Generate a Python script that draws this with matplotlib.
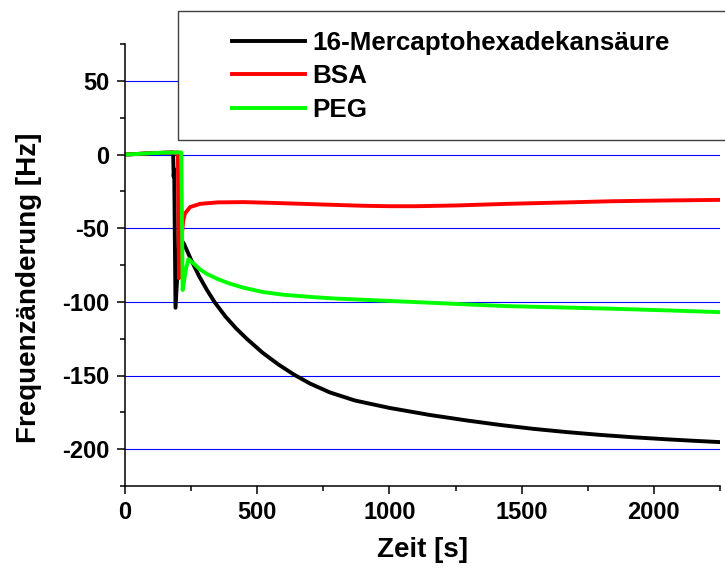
import matplotlib
matplotlib.use("Agg")
from matplotlib import pyplot as plt
from matplotlib.ticker import MultipleLocator
from matplotlib.patches import Rectangle

plt.rcParams['font.family'] = ['Liberation Sans', 'DejaVu Sans']
plt.rcParams['font.weight'] = 'bold'
plt.rcParams['axes.unicode_minus'] = False

# 16-Mercaptohexadekansaeure
t_mhda = [0, 50, 100, 150, 182, 184, 186, 191, 206, 223, 250, 280, 310, 340, 380, 420,
          460, 520, 580, 640, 700, 775, 870, 1000, 1153, 1292, 1420, 1544, 1670, 1796,
          1920, 2048, 2150, 2250]
f_mhda = [0, 0.4, 0.9, 1.2, 1.4, -15, -10, -104, -56, -60.6, -71.5, -82.5, -92, -100.5,
          -110, -118, -125, -134.5, -142.5, -149.5, -155.5, -161.5, -167, -172, -176.8,
          -180.5, -183.6, -186.2, -188.4, -190.3, -191.9, -193.3, -194.3, -195.2]

# BSA
t_bsa = [0, 50, 100, 150, 200, 204, 212, 220, 227, 246, 284, 350, 450, 586, 775, 900,
         1000, 1100, 1250, 1443, 1650, 1847, 2050, 2250]
f_bsa = [0, 0.4, 0.9, 1.2, 1.4, -84, -60, -45, -40, -35.7, -33.5, -32.5, -32.3, -33,
         -34.1, -34.8, -35.1, -35.1, -34.6, -33.5, -32.6, -31.7, -31.2, -30.8]

# PEG
t_peg = [0, 50, 100, 150, 200, 213, 218, 230, 240, 260, 280, 309, 350, 397, 450, 523,
         600, 712, 800, 901, 1040, 1153, 1300, 1443, 1650, 1847, 2050, 2250]
f_peg = [0, 0.4, 0.9, 1.2, 1.4, 1.4, -92, -78, -71, -74, -77.5, -81, -84.5, -87.7,
         -90.5, -93.4, -95.2, -96.8, -97.8, -98.6, -99.7, -100.6, -101.8, -102.9,
         -103.8, -104.7, -105.8, -107]

labels = ['16-Mercaptohexadekansäure', 'BSA', 'PEG']

W, H = 725, 574
fig = plt.figure(figsize=(W / 100, H / 100), dpi=100)
ax = fig.add_axes([125 / W, 88 / H, 595 / W, 442 / H])

l1, = ax.plot(t_mhda, f_mhda, color='black', lw=2.8)
l2, = ax.plot(t_bsa, f_bsa, color='#ff0000', lw=2.8)
l3, = ax.plot(t_peg, f_peg, color='#00ff00', lw=2.8)

ax.set_xlim(0, 2250)
ax.set_ylim(-225, 75)
ax.set_xticks([0, 500, 1000, 1500, 2000])
ax.set_yticks([-200, -150, -100, -50, 0, 50])
ax.xaxis.set_minor_locator(MultipleLocator(250))
ax.yaxis.set_minor_locator(MultipleLocator(25))
ax.tick_params(which='major', direction='out', length=6, width=1.1, labelsize=17, pad=5)
ax.tick_params(which='minor', direction='out', length=3.5, width=1.1)
ax.yaxis.grid(True, which='major', color='#0000ff', lw=0.8)
ax.set_axisbelow(True)

for s in ['top', 'right']:
    ax.spines[s].set_visible(False)
for s in ['left', 'bottom']:
    ax.spines[s].set_linewidth(1.1)

ax.set_xlabel('Zeit [s]', fontsize=20, fontweight='bold')
ax.set_ylabel('Frequenzänderung [Hz]', fontsize=20, fontweight='bold')
ax.xaxis.set_label_coords(0.5, -0.115)
ax.yaxis.set_label_coords(-0.14, 0.448)

# legend box
box = Rectangle((177.5 / W, 1 - 140 / H), 0.8, 129 / H, transform=fig.transFigure,
                facecolor='white', edgecolor='#404040', lw=1.0, zorder=3)
fig.add_artist(box)
fig.legend([l1, l2, l3], labels, loc='upper left',
           bbox_to_anchor=(232 / W, 1 - 31 / H), bbox_transform=fig.transFigure,
           frameon=False, borderpad=0, borderaxespad=0, handlelength=2.8,
           handletextpad=0.3, labelspacing=0.36,
           prop={'size': 18.7, 'weight': 'bold'})

fig.savefig('out.png', dpi=100)
